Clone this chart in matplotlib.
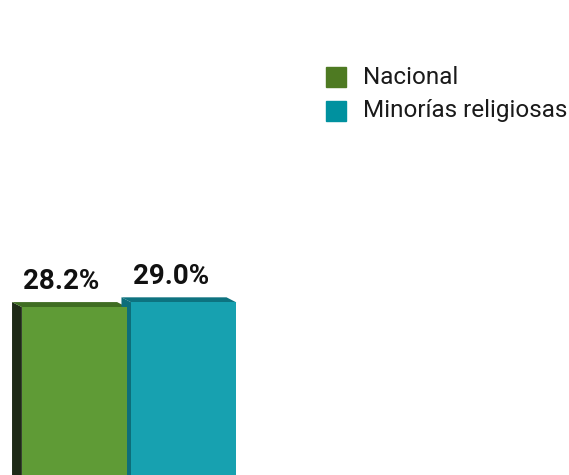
import matplotlib.pyplot as plt
from matplotlib.patches import Polygon, Rectangle

series = ['Nacional', 'Minorías religiosas']
values = [28.2, 29.0]
front_colors = ['#5f9b36', '#17a1b0']
top_colors = ['#3f6d22', '#0d7380']
side_colors = ['#1e2a17', '#0d6e7a']
legend_colors = ['#4e7a22', '#00919f']

plt.rcParams['font.family'] = ['Roboto', 'DejaVu Sans']

fig = plt.figure(figsize=(5.69, 4.75), dpi=100)
ax = fig.add_axes([0, 0, 1, 1])
ax.set_xlim(-0.68, 4.52)
ax.set_ylim(0, 79.8)
ax.axis('off')

width = 0.96
dx, dy = 0.09, 0.85
xs = range(len(values))

# faux 3D: left side and top face, then front face
for x, v, top, side in zip(xs, values, top_colors, side_colors):
    l, r = x - width / 2, x + width / 2
    ax.add_patch(Polygon([(l, -2), (l - dx, -2 + dy), (l - dx, v + dy), (l, v)],
                         closed=True, color=side, lw=0, zorder=1))
    ax.add_patch(Polygon([(l, v), (l - dx, v + dy), (r - dx, v + dy), (r, v)],
                         closed=True, color=top, lw=0, zorder=1))
ax.bar(list(xs), values, width=width, color=front_colors, zorder=2)

for x, v in zip(xs, values):
    ax.annotate(f'{v:.1f}%', (x - 0.12, v + dy), xytext=(0, 5),
                textcoords='offset points', ha='center', va='bottom',
                fontsize=20, fontweight='bold', color='#111111')

# legend
for i, (name, c) in enumerate(zip(series, legend_colors)):
    y = 1 - (77 + 34 * i) / 475
    fig.patches.append(Rectangle((326 / 569, y - 10 / 475), 20 / 569, 20 / 475,
                                 transform=fig.transFigure, color=c))
    fig.text(363 / 569, y, name, fontsize=17.5, color='#1a1a1a',
             va='center', ha='left')

plt.savefig('out.png')
